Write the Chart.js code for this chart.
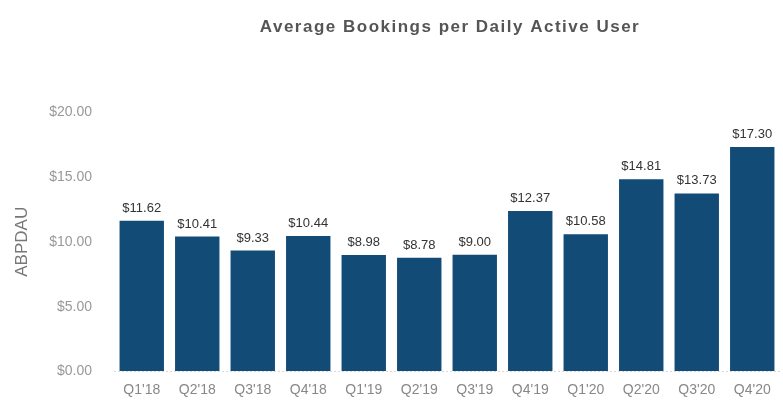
<!DOCTYPE html>
<html>
<head>
<meta charset="utf-8">
<script src="https://cdn.jsdelivr.net/npm/chart.js@4/dist/chart.umd.min.js"></script>
<style>
  html, body { margin: 0; padding: 0; background: #fff; }
  #wrap { width: 783px; height: 402px; }
</style>
</head>
<body>
<div id="wrap"><canvas id="chart" width="783" height="402"></canvas></div>
<script>
// Chart data
const quarters = ["Q1'18", "Q2'18", "Q3'18", "Q4'18", "Q1'19", "Q2'19", "Q3'19", "Q4'19", "Q1'20", "Q2'20", "Q3'20", "Q4'20"];
const abpdau = [11.62, 10.41, 9.33, 10.44, 8.98, 8.78, 9.00, 12.37, 10.58, 14.81, 13.73, 17.30];
const yTicks = [0, 5, 10, 15, 20];

const titleText = "Average Bookings per Daily Active User";
const fontFamily = "'Liberation Sans', Arial, Helvetica, sans-serif";
let money = (v) => "$" + Number(v).toFixed(2);

// Value labels above each bar, and a title centred over the plot area
const barLabels = {
    id: "barLabels",
    afterDatasetsDraw(chart) {
        const ctx = chart.ctx;
        const meta = chart.getDatasetMeta(0);
        ctx.save();
        ctx.font = "13px " + fontFamily;
        ctx.fillStyle = "#333";
        ctx.textAlign = "center";
        ctx.textBaseline = "bottom";
        meta.data.forEach((bar, i) => {
            ctx.fillText(money(abpdau[i]), bar.x, bar.y - 6);
        });
        ctx.restore();
    },
    afterDraw(chart) {
        const ctx = chart.ctx;
        const area = chart.chartArea;
        ctx.save();
        ctx.font = "bold 17px " + fontFamily;
        ctx.fillStyle = "#555";
        ctx.textAlign = "center";
        ctx.textBaseline = "middle";
        ctx.letterSpacing = "1.5px";
        ctx.fillText(titleText, (area.left + area.right) / 2 + 3, 27);
        ctx.restore();
    }
};

new Chart(document.getElementById("chart").getContext("2d"), {
    type: "bar",
    data: {
        labels: quarters,
        datasets: [{
            label: "ABPDAU",
            data: abpdau,
            backgroundColor: "#134b77",
            barPercentage: 0.8,
            categoryPercentage: 1.0
        }]
    },
    options: {
        responsive: false,
        animation: false,
        layout: { autoPadding: false, padding: { top: 112, right: 3, left: 8, bottom: 0 } },
        plugins: {
            legend: { display: false },
            title: { display: false },
            tooltip: { enabled: false }
        },
        scales: {
            x: {
                grid: { display: false, drawTicks: false },
                border: { display: false },
                ticks: { color: "#888", font: { family: fontFamily, size: 14 }, padding: 10, maxRotation: 0 },
                afterFit: (axis) => { axis.height = 26; }  // keep labels low, close to the canvas bottom
            },
            y: {
                min: 0,
                max: 20,
                afterBuildTicks: (axis) => { axis.ticks = yTicks.map(v => ({ value: v })); },
                grid: {
                    drawTicks: false,
                    color: (c) => c.tick && c.tick.value === 0 ? "#d8d8d8" : "transparent"
                },
                border: { display: false, dash: [2, 2] },
                ticks: { color: "#999", font: { family: fontFamily, size: 14 }, padding: 22, callback: (v) => money(v) },
                title: { display: true, text: "ABPDAU", color: "#777", font: { family: fontFamily, size: 17 }, padding: { bottom: 6 } },
                afterFit: (axis) => { axis.width = 106; }
            }
        }
    },
    plugins: [barLabels]
});
</script>
</body>
</html>
